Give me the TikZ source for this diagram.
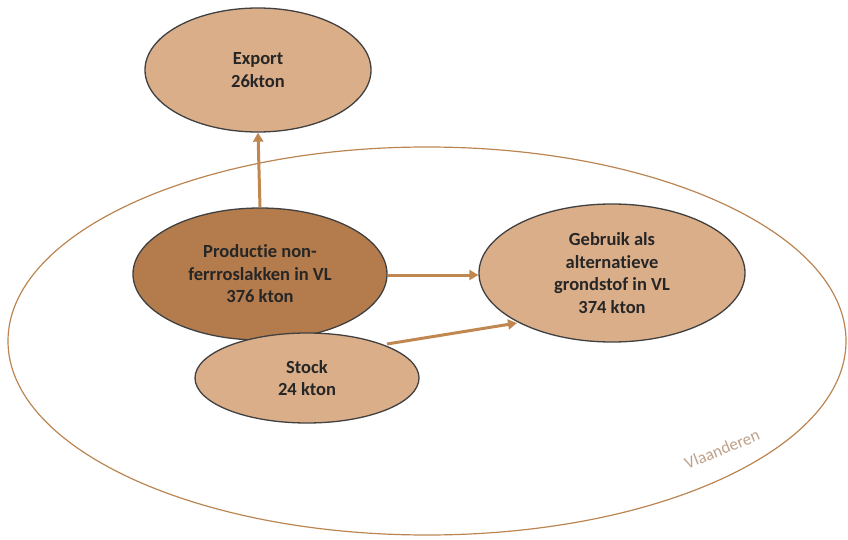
\documentclass[tikz,border=0pt]{standalone}
\usepackage{fontspec}
\setmainfont[Ligatures=NoCommon]{Carlito}
\usetikzlibrary{arrows.meta,shapes.geometric}
\definecolor{lightfill}{HTML}{DBAE8A}
\definecolor{darkfill}{HTML}{B47C4C}
\definecolor{flow}{HTML}{C08850}
\definecolor{region}{HTML}{BB8552}
\definecolor{regiontext}{HTML}{BFA088}
\tikzset{
  x=1pt,y=-1pt,
  flowbox/.style={ellipse,draw=black!75,line width=1.3pt,inner sep=0pt,
    font=\fontsize{18.5}{22.5}\selectfont\bfseries,text=black!85,align=center},
  flowarrow/.style={draw=flow,line width=3pt,-{Triangle[width=10pt,length=9pt]}},
}
\begin{document}
\begin{tikzpicture}
\useasboundingbox (0,0) rectangle (848,540);
\node[ellipse,draw=region,line width=1.2pt,minimum width=838,minimum height=388,inner sep=0pt] (vl) at (427,341) {};
\node[text=regiontext,font=\fontsize{17}{19}\selectfont,rotate=22,inner sep=0pt] (vltext) at (722,449) {Vlaanderen};
\node[flowbox,fill=lightfill,minimum width=226,minimum height=124] (export) at (258,70) {Export\\26kton};
\node[flowbox,fill=darkfill,minimum width=254,minimum height=132] (prod) at (260,274) {Productie non-\\ferrroslakken in VL\\376 kton};
\node[flowbox,fill=lightfill,minimum width=266,minimum height=138] (gebruik) at (612,273) {Gebruik als\\alternatieve\\grondstof in VL\\374 kton};
\node[flowbox,fill=lightfill,minimum width=224,minimum height=90] (stock) at (307,378) {Stock\\24 kton};
\coordinate (stockout) at (387,344);
\coordinate (gebruikin) at (517,323);
\draw[flowarrow] (prod.north) -- (export.south);
\draw[flowarrow] (prod.east |- 0,275) -- (gebruik.west |- 0,275);
\draw[flowarrow] (stockout) -- (gebruikin);
\end{tikzpicture}
\end{document}
